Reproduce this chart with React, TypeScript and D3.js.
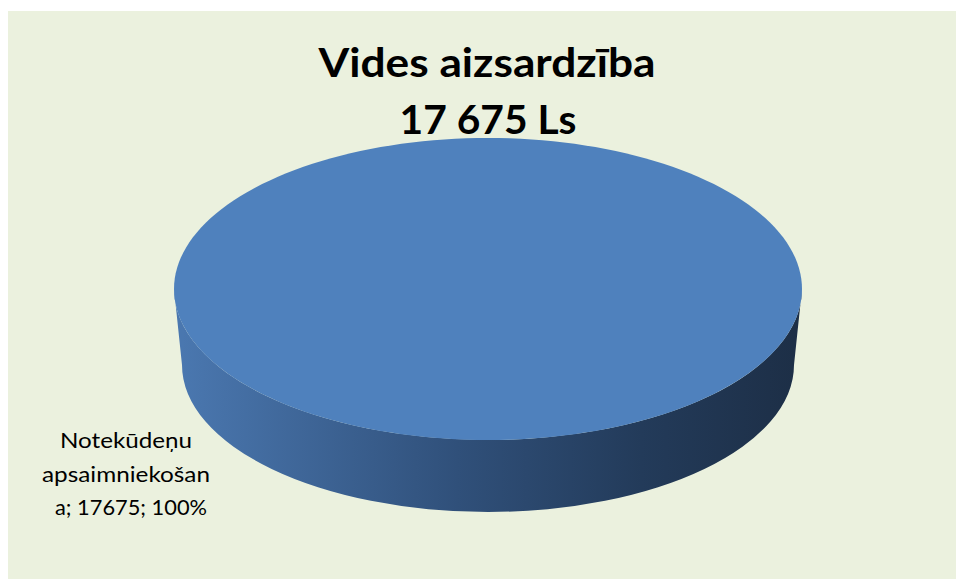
import React from "react";
import * as d3 from "d3";

const categories = ["Notekūdeņu apsaimniekošana"];
const values = [17675];
const titleLines = ["Vides aizsardzība", "17 675 Ls"];
const labelLines = ["Notekūdeņu", "apsaimniekošan", "a; 17675; 100%"];

const W = 956;
const H = 579;

export default function App() {
  const pie = d3.pie<number>().sort(null)(values);
  const total = d3.sum(values);
  const fmtPct = d3.format(".0%");
  // top ellipse
  const cx = 488, cy = 289, rx = 314, ry = 151;
  // bottom ellipse (slight perspective)
  const bcx = 488, bcy = 365, brx = 306, bry = 147;

  const slice = pie[0];
  const sidePath = `M${cx - rx},${cy} A${rx},${ry} 0 0 0 ${cx + rx},${cy} L${bcx + brx},${bcy} A${brx},${bry} 0 0 1 ${bcx - brx},${bcy} Z`;
  const topPath = d3.path();
  // draw the top face from the slice angles (full circle here)
  const steps = 180;
  for (let i = 0; i <= steps; i++) {
    const a = slice.startAngle + ((slice.endAngle - slice.startAngle) * i) / steps;
    const x = cx + rx * Math.sin(a);
    const y = cy - ry * Math.cos(a);
    if (i === 0) topPath.moveTo(x, y);
    else topPath.lineTo(x, y);
  }
  topPath.closePath();

  const pct = fmtPct(values[0] / total);
  void pct;
  void categories;

  const labelWidths = [132, 168, 152];

  return (
    <svg
      width={W}
      height={H}
      style={{ position: "absolute", left: 0, top: 0 }}
      xmlns="http://www.w3.org/2000/svg"
    >
      <defs>
        <linearGradient id="side" x1={bcx - brx} x2={bcx + brx} y1={0} y2={0} gradientUnits="userSpaceOnUse">
          <stop offset="0" stopColor="#4A77AF" />
          <stop offset="0.45" stopColor="#30507A" />
          <stop offset="0.75" stopColor="#233B5A" />
          <stop offset="1" stopColor="#1D2F47" />
        </linearGradient>
      </defs>
      <rect x={0} y={0} width={W} height={H} fill="#ffffff" />
      <rect x={8} y={11} width={W - 8} height={H - 11} fill="#EBF1DE" />
      <path d={sidePath} fill="url(#side)" />
      <path d={topPath.toString()} fill="#4F81BD" />
      <g fontFamily="Lato, 'Open Sans', sans-serif" fontWeight="bold" fill="#000" textAnchor="middle">
        <text x={487} y={77} fontSize={40} textLength={337} lengthAdjust="spacingAndGlyphs">
          {titleLines[0]}
        </text>
        <text x={488} y={134} fontSize={40} textLength={177} lengthAdjust="spacingAndGlyphs">
          {titleLines[1]}
        </text>
      </g>
      <g fontFamily="Lato, 'Open Sans', sans-serif" fill="#000" textAnchor="middle" fontSize={21}>
        {labelLines.map((l, i) => (
          <text key={i} x={[126, 126, 131][i]} y={448 + i * 33.5} textLength={labelWidths[i]} lengthAdjust="spacingAndGlyphs">
            {l}
          </text>
        ))}
      </g>
    </svg>
  );
}
